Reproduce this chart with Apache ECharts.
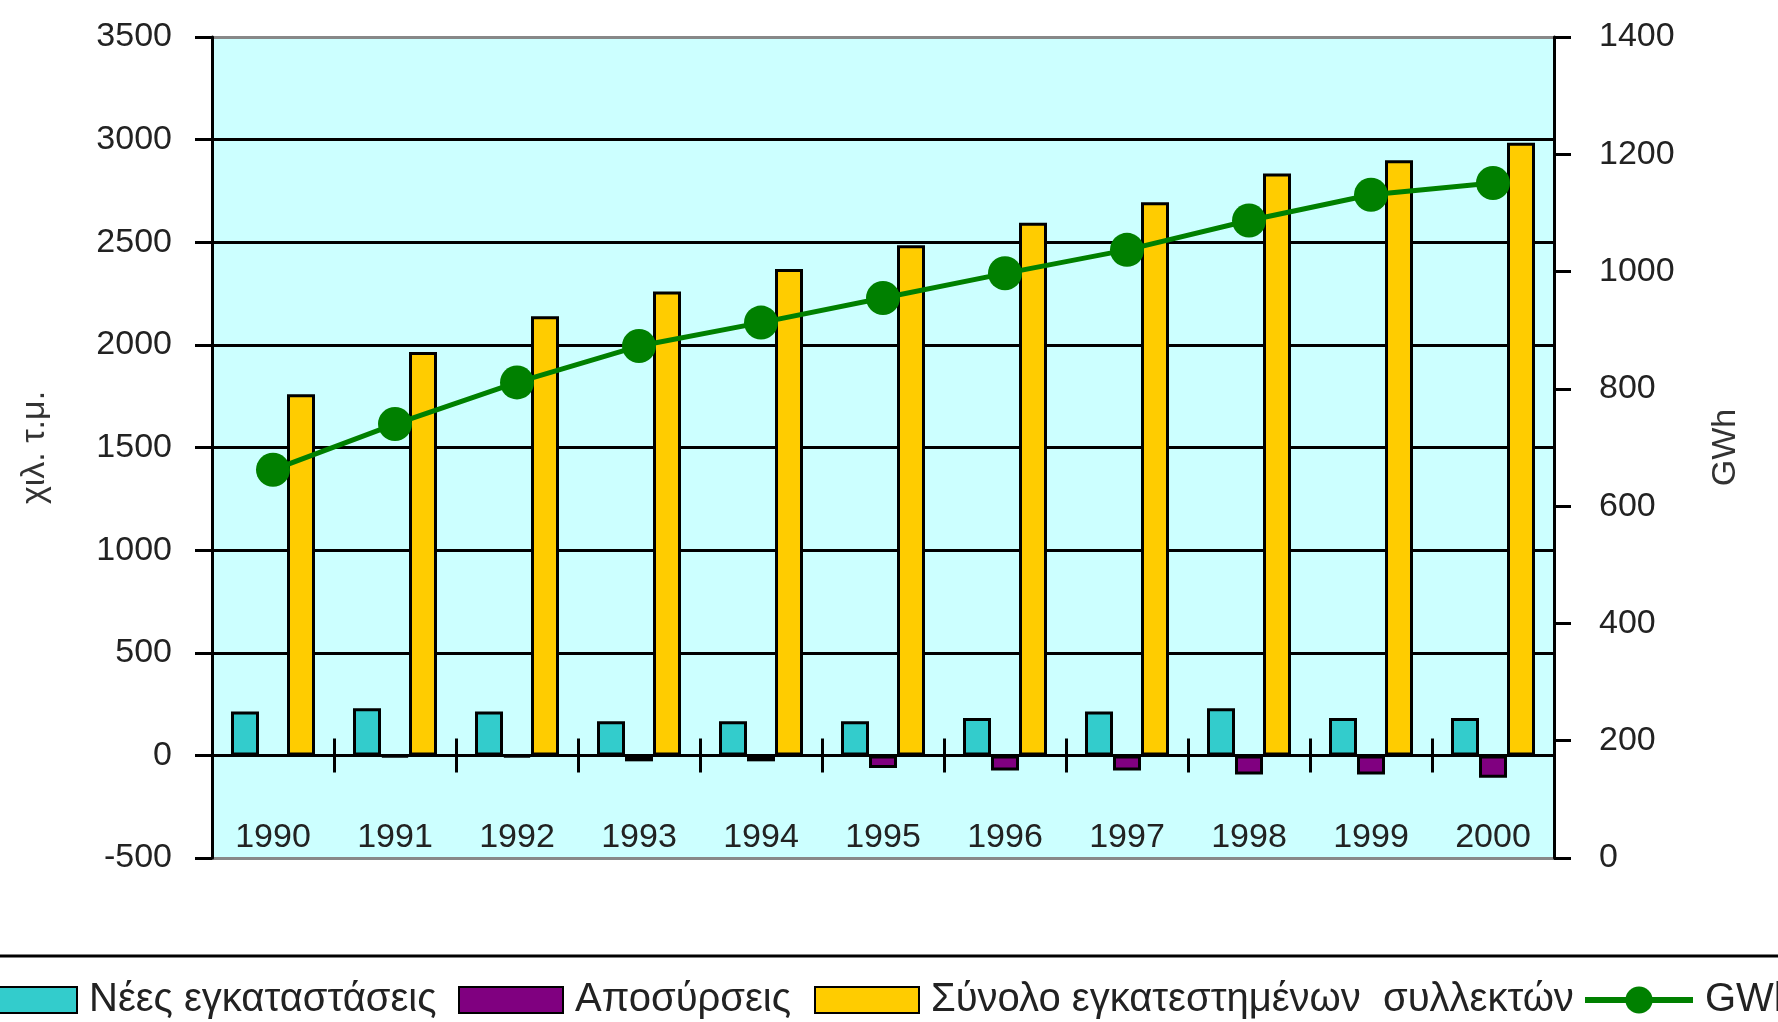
<!DOCTYPE html>
<html>
<head>
<meta charset="utf-8">
<script src="https://cdn.jsdelivr.net/npm/echarts@6/dist/echarts.min.js"></script>
<style>
  html, body { margin: 0; padding: 0; background: #fff; }
  #chart { width: 1778px; height: 1022px; }
</style>
</head>
<body>
<div id="chart"></div>
<script>
const years = ['1990', '1991', '1992', '1993', '1994', '1995', '1996', '1997', '1998', '1999', '2000'];
// χιλ. τ.μ.
const newInstall = [214, 230, 214, 166, 166, 166, 182, 214, 230, 182, 182];
const withdrawals = [0, -8, -8, -29, -29, -61, -74, -74, -93, -93, -109];
const totalInstalled = [1760, 1965, 2140, 2260, 2370, 2485, 2595, 2695, 2835, 2900, 2985];
// GWh
const energy = [662, 740, 811, 873, 913, 955, 997, 1037, 1087, 1131, 1151];

const names = ['Νέες εγκαταστάσεις', 'Αποσύρσεις', 'Σύνολο εγκατεστημένων  συλλεκτών', 'GWh'];

const font = "'Liberation Sans', Arial, sans-serif";

const myChart = echarts.init(document.getElementById('chart'));

const barStyle = (color) => ({ color: color, borderColor: '#000', borderWidth: 3 });

const legendBase = {
  top: 980,
  padding: 0,
  itemWidth: 104,
  itemHeight: 26,
  textStyle: { fontFamily: font, fontSize: 40, color: '#222', padding: [0, 0, 0, 7] }
};

const plain = (v) => String(v);

const option = {
  animation: false,
  grid: {
    left: 212,
    right: 224,
    top: 37,
    bottom: 164,
    show: true,
    backgroundColor: '#ccffff',
    borderWidth: 0
  },
  legend: [
    Object.assign({}, legendBase, { left: -28, icon: 'rect', data: [names[0]] }),
    Object.assign({}, legendBase, { left: 458, icon: 'rect', data: [names[1]] }),
    Object.assign({}, legendBase, { left: 814, icon: 'rect', data: [names[2]] }),
    Object.assign({}, legendBase, {
      left: 1582, itemWidth: 108, itemHeight: 34,
      data: [names[3]], lineStyle: { width: 6 }
    })
  ],
  graphic: [
    {
      type: 'line',
      shape: { x1: 0, y1: 956, x2: 1778, y2: 956 },
      style: { stroke: '#000', lineWidth: 3 }
    }
  ],
  xAxis: [
    {
      type: 'category',
      data: years,
      axisLine: { onZero: true, lineStyle: { color: '#000', width: 3 } },
      axisTick: { show: true, length: 17, lineStyle: { color: '#000', width: 3 } },
      axisLabel: { margin: -37, fontFamily: font, fontSize: 34, color: '#222' }
    },
    {
      // upper half of the category ticks, moved up to the zero line
      type: 'category',
      data: years,
      position: 'bottom',
      offset: -102.6,
      axisLine: { show: false },
      axisTick: { show: true, inside: true, length: 17, lineStyle: { color: '#000', width: 3 } },
      axisLabel: { show: false }
    }
  ],
  yAxis: [
    {
      type: 'value',
      min: -500,
      max: 3500,
      interval: 500,
      name: 'χιλ. τ.μ.',
      nameLocation: 'middle',
      nameRotate: 90,
      nameGap: 160,
      nameTextStyle: { fontFamily: font, fontSize: 34, color: '#333' },
      axisLine: { show: true, lineStyle: { color: '#000', width: 3 } },
      axisTick: { show: true, length: 17, lineStyle: { color: '#000', width: 3 } },
      axisLabel: { margin: 40, fontFamily: font, fontSize: 34, color: '#222', padding: [0, 0, 12, 0], formatter: plain },
      splitLine: {
        show: true,
        lineStyle: {
          color: ['#888', '#000', '#000', '#000', '#000', '#000', '#000', '#000', '#888'],
          width: 3
        }
      }
    },
    {
      type: 'value',
      min: 0,
      max: 1400,
      interval: 200,
      position: 'right',
      name: 'GWh',
      nameLocation: 'middle',
      nameRotate: 90,
      nameGap: 155,
      nameTextStyle: { fontFamily: font, fontSize: 34, color: '#333' },
      axisLine: { show: true, lineStyle: { color: '#000', width: 3 } },
      axisTick: { show: true, length: 17, lineStyle: { color: '#000', width: 3 } },
      axisLabel: { margin: 45, fontFamily: font, fontSize: 34, color: '#222', padding: [0, 0, 12, 0], formatter: plain },
      splitLine: { show: false }
    }
  ],
  series: [
    {
      name: names[0],
      type: 'bar',
      data: newInstall,
      barWidth: 28,
      barGap: '0%',
      itemStyle: barStyle('#33cccc')
    },
    {
      name: names[1],
      type: 'bar',
      data: withdrawals,
      barWidth: 28,
      barGap: '0%',
      itemStyle: barStyle('#800080')
    },
    {
      name: names[2],
      type: 'bar',
      data: totalInstalled,
      barWidth: 28,
      barGap: '0%',
      itemStyle: barStyle('#ffcc00')
    },
    {
      name: names[3],
      type: 'line',
      yAxisIndex: 1,
      data: energy,
      symbol: 'circle',
      symbolSize: 34,
      z: 5,
      itemStyle: { color: '#008000' },
      lineStyle: { color: '#008000', width: 5 }
    }
  ]
};

myChart.setOption(option);
</script>
</body>
</html>
